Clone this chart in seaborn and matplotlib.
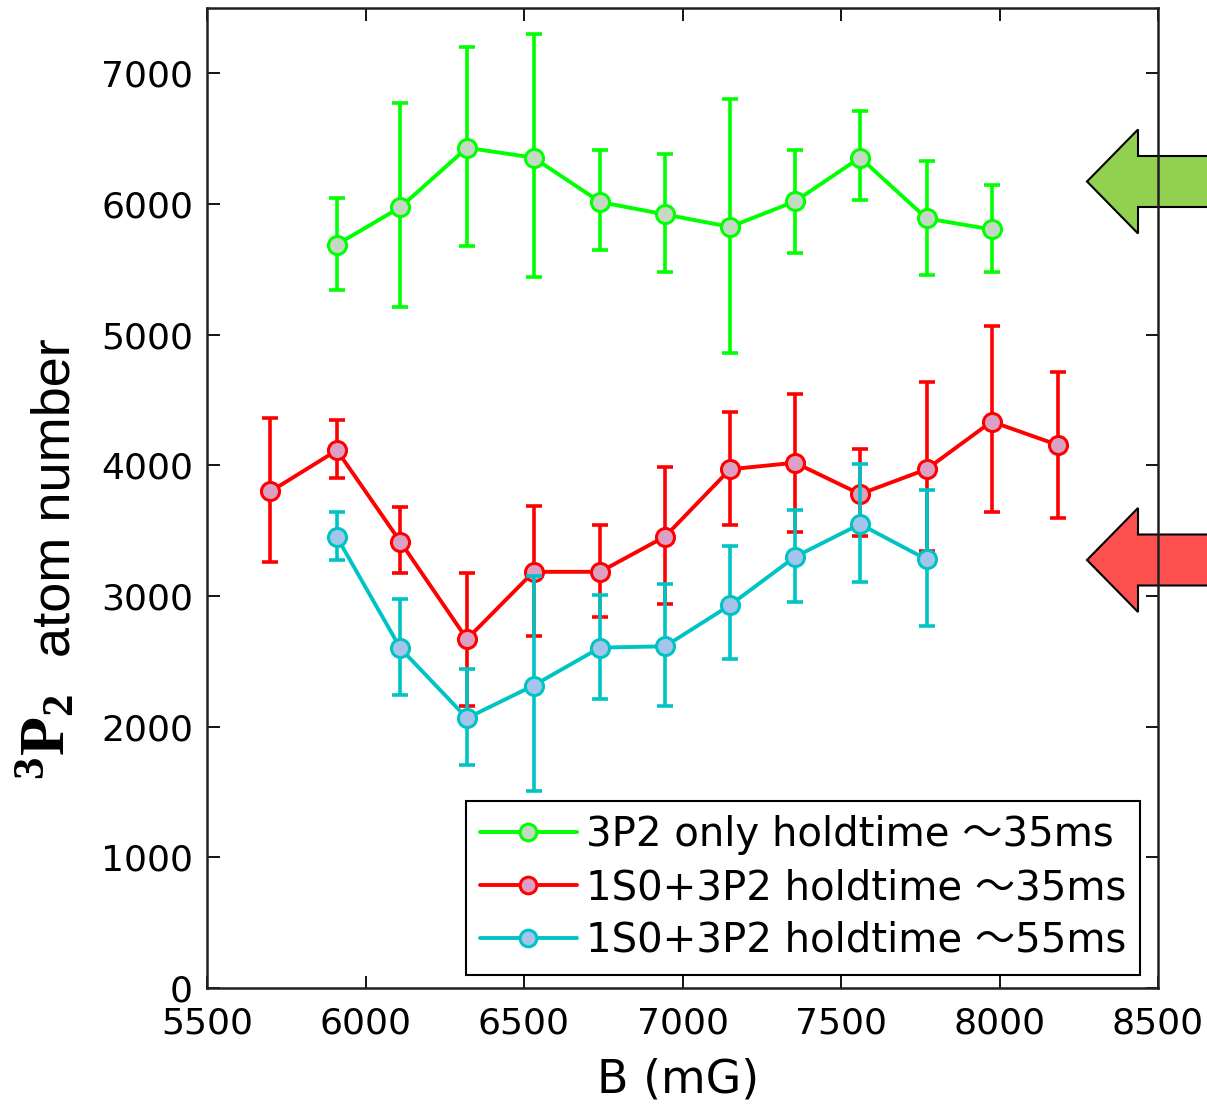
import numpy as np
import pandas as pd
import matplotlib
matplotlib.use("Agg")
import matplotlib.pyplot as plt
from matplotlib.patches import Polygon
import seaborn as sns

# ---------------- data ----------------
green_x = [5910, 6110, 6320, 6530, 6740, 6945, 7150, 7355, 7560, 7770, 7975]
green_y = [5690, 5975, 6430, 6355, 6015, 5920, 5825, 6020, 6355, 5890, 5805]
green_lo = [5345, 5210, 5680, 5445, 5645, 5480, 4860, 5625, 6030, 5460, 5480]
green_hi = [6045, 6770, 7200, 7300, 6410, 6380, 6800, 6410, 6715, 6330, 6145]

red_x = [5700, 5910, 6110, 6320, 6530, 6740, 6945, 7150, 7355, 7560, 7770, 7975, 8185]
red_y = [3800, 4115, 3415, 2670, 3185, 3185, 3455, 3970, 4020, 3780, 3970, 4335, 4155]
red_lo = [3260, 3905, 3175, 2155, 2695, 2840, 2940, 3545, 3490, 3460, 3345, 3645, 3595]
red_hi = [4360, 4345, 3680, 3175, 3690, 3540, 3990, 4410, 4545, 4125, 4635, 5065, 4715]

cyan_x = [5910, 6110, 6320, 6530, 6740, 6945, 7150, 7355, 7560, 7770]
cyan_y = [3450, 2600, 2065, 2315, 2605, 2615, 2930, 3300, 3550, 3280]
cyan_lo = [3275, 2240, 1705, 1510, 2210, 2155, 2515, 2955, 3110, 2770]
cyan_hi = [3640, 2975, 2440, 3150, 3005, 3095, 3380, 3660, 4010, 3810]

labels = ["3P2 only holdtime \uff5e35ms",
          "1S0+3P2 holdtime \uff5e35ms",
          "1S0+3P2 holdtime \uff5e55ms"]

x_ticks = [5500, 6000, 6500, 7000, 7500, 8000, 8500]
y_ticks = [0, 1000, 2000, 3000, 4000, 5000, 6000, 7000]

# ---------------- style ----------------
sns.set_theme(style="ticks")
plt.rcParams['font.family'] = ['DejaVu Sans', 'Noto Sans CJK JP']
plt.rcParams['text.color'] = 'black'
plt.rcParams['axes.labelcolor'] = 'black'
plt.rcParams['mathtext.fontset'] = 'custom'
plt.rcParams['mathtext.rm'] = 'Liberation Serif:bold'
plt.rcParams['mathtext.bf'] = 'Liberation Serif:bold'
plt.rcParams['mathtext.it'] = 'Liberation Serif:bold'

W, H = 1207, 1105
fig = plt.figure(figsize=(W / 100, H / 100), dpi=100)
ax = fig.add_axes([207 / W, 1 - 988 / H, (1158 - 207) / W, (988 - 8) / H])

series = [
    (green_x, green_y, green_lo, green_hi, "#00ff00", "#c4d8c4", labels[0]),
    (red_x, red_y, red_lo, red_hi, "#ff0000", "#dca0c4", labels[1]),
    (cyan_x, cyan_y, cyan_lo, cyan_hi, "#00c4c4", "#a4c4ec", labels[2]),
]

z = 3
for xs, ys, lo, hi, col, face, lab in series:
    xs = np.array(xs); ys = np.array(ys)
    err = np.vstack([ys - np.array(lo), np.array(hi) - ys])
    ax.errorbar(xs, ys, yerr=err, fmt='none', ecolor=col, elinewidth=2.6,
                capsize=5.5, capthick=2.6, zorder=z)
    df = pd.DataFrame({"B": xs, "N": ys})
    sns.lineplot(data=df, x="B", y="N", ax=ax, color=col, linewidth=2.8,
                 marker='o', markersize=13, markerfacecolor=face,
                 markeredgecolor=col, markeredgewidth=2.2, label=lab,
                 zorder=z + 0.5, legend=False)
    z += 1

ax.set_xlim(5500, 8500)
ax.set_ylim(0, 7500)
ax.set_xticks(x_ticks)
ax.set_yticks(y_ticks)
ax.set_xlabel("")
ax.set_ylabel("")
ax.tick_params(direction='in', length=9, width=1.3, top=True, right=True,
               labelsize=26, colors='black')
ax.tick_params(axis='y', pad=10)
ax.tick_params(axis='x', pad=13)
for t in ax.get_xticklabels() + ax.get_yticklabels():
    t.set_fontfamily(['DejaVu Sans'])
for s in ax.spines.values():
    s.set_linewidth(1.8)
    s.set_color('#202020')
    s.set_visible(True)
    s.set_zorder(10)

leg_lines = [l for l in ax.lines if l.get_label() in labels]
leg = ax.legend(handles=leg_lines, labels=labels, loc='lower right',
                bbox_to_anchor=(1 - 18 / 951, 13 / 980),
                frameon=True, fancybox=False, edgecolor='black',
                framealpha=1, handlelength=2.4,
                handletextpad=0.22, borderpad=0.35, labelspacing=0.32,
                borderaxespad=0, labelcolor='black',
                prop={'family': ['DejaVu Sans', 'Noto Sans CJK JP'], 'size': 29})
leg.get_frame().set_linewidth(1.5)
for lh in leg.get_lines():
    lh.set_markersize(12)

# axis labels
fig.text(678 / W, 1 - 1080 / H, "B (mG)", ha='center', va='center',
         fontsize=33, family=['DejaVu Sans'], color='black')
fig.text(56 / W, 1 - 498 / H, "atom number", rotation=90, ha='center',
         va='center', fontsize=39, family=['Liberation Sans'], color='black')
fig.text(47 / W, 1 - 737 / H, r"$^{3}\mathbf{P}_{2}$", rotation=90,
         ha='center', va='center', fontsize=46, color='black')

# arrows on the right
def arrow(yc, color):
    tip_x, head_x, end_x = 1087, 1138, 1215
    hh, sh = 52, 25.5
    pts = [(tip_x, yc), (head_x, yc - hh), (head_x, yc - sh), (end_x, yc - sh),
           (end_x, yc + sh), (head_x, yc + sh), (head_x, yc + hh)]
    pts = [(px / W, 1 - py / H) for px, py in pts]
    p = Polygon(pts, closed=True, facecolor=color, edgecolor='black',
                linewidth=1.5, transform=fig.transFigure, clip_on=False,
                zorder=8)
    ax.add_patch(p)

arrow(181.5, "#92d050")
arrow(560, "#ff5050")

fig.savefig("out.png", dpi=100)
